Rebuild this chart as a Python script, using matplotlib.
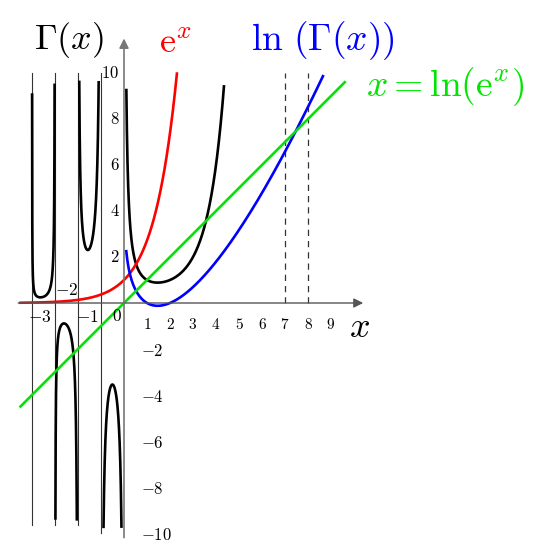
import math
import numpy as np
import matplotlib
matplotlib.use('Agg')
import matplotlib.pyplot as plt

plt.rcParams['mathtext.fontset'] = 'cm'
plt.rcParams['font.family'] = 'serif'

# pole intervals of Gamma and the curve clipping
gamma_branches = [(-4, -3), (-3, -2), (-2, -1), (-1, 0), (0, 4.43)]
gamma_cap = [9.6, 9.5, 9.7, 9.8, 9.5]
asymptotes = [-4, -3, -2, -1]
dashed_x = [7, 8]
exp_range = (-4.5, 2.3)
lngamma_range = (0.1, 8.65)
identity_range = (-4.5, 9.6)

pos_xticks = [1, 2, 3, 4, 5, 6, 7, 8, 9]
pos_yticks = [2, 4, 6, 8, 10]
neg_yticks = [-2, -4, -6, -8, -10]

# 23 px per unit, origin at pixel (124, 303)
fig = plt.figure(figsize=(5.55, 5.48), dpi=100)
ax = fig.add_axes([0, 0, 1, 1])
ax.set_xlim(-124 / 23, (555 - 124) / 23)
ax.set_ylim(-(548 - 303) / 23, 303 / 23)
ax.axis('off')

# axes with arrows
ax.annotate('', xy=(10.4, 0), xytext=(-4.6, 0),
            arrowprops=dict(arrowstyle='-|>', color='#555555', lw=1.0,
                            mutation_scale=14, shrinkA=0, shrinkB=0))
ax.annotate('', xy=(0, 11.5), xytext=(0, -10.2),
            arrowprops=dict(arrowstyle='-|>', color='#777777', lw=1.2,
                            mutation_scale=14, shrinkA=0, shrinkB=0))

for a in asymptotes:
    bottom = -10.0 if a == -1 else -9.65
    ax.plot([a, a], [bottom, 10], color='#333333', lw=0.8)

for d in dashed_x:
    ax.plot([d, d], [0, 10], color='#333333', lw=0.9, ls=(0, (5, 4)))

# Gamma branches
for (lo, hi), cap in zip(gamma_branches, gamma_cap):
    xs = np.linspace(lo + 1e-4, hi - 1e-4 if hi <= 0 else hi, 2000)
    ys = np.array([math.gamma(v) for v in xs])
    m = np.abs(ys) <= cap
    ax.plot(xs[m], ys[m], color='black', lw=1.9, solid_capstyle='butt')

xs = np.linspace(*exp_range, 300)
ax.plot(xs, np.exp(xs), color='red', lw=1.9)

xs = np.linspace(*lngamma_range, 400)
ax.plot(xs, [math.lgamma(v) for v in xs], color='blue', lw=1.9)

xs = np.linspace(*identity_range, 2)
ax.plot(xs, xs, color='#00e600', lw=1.9)

# tick labels
for t in pos_xticks:
    ax.text(t, -0.95, f'${t}$', ha='center', va='center', fontsize=11)
for t in pos_yticks:
    ax.text(-0.2, t, f'${t}$', ha='right', va='center', fontsize=12)
for t in neg_yticks:
    ax.text(0.72, t - 0.1, f'${t}$', ha='left', va='center', fontsize=12)
ax.text(-3.65, -0.65, '$-3$', ha='center', va='center', fontsize=12.5)
ax.text(-1.6, -0.65, '$-1$', ha='center', va='center', fontsize=12.5)
ax.text(-0.3, -0.6, '$0$', ha='center', va='center', fontsize=12.5)
ax.text(-2.5, 0.55, '$-2$', ha='center', va='center', fontsize=12.5)

# curve labels
ax.text(-2.4, 11.45, r'$\Gamma(x)$', ha='center', va='center', fontsize=26)
ax.text(2.25, 11.3, r'$\mathrm{e}^x$', ha='center', va='center', fontsize=26, color='red')
ax.text(8.65, 11.4, r'$\ln\,(\Gamma(x))$', ha='center', va='center',
        fontsize=27, color='blue')
ax.text(13.95, 9.4, r'$x=\ln(\mathrm{e}^x)$', ha='center', va='center',
        fontsize=27, color='#00e600')
ax.text(10.26, -1.05, '$x$', ha='center', va='center', fontsize=26)

fig.savefig('out.png', dpi=100)
